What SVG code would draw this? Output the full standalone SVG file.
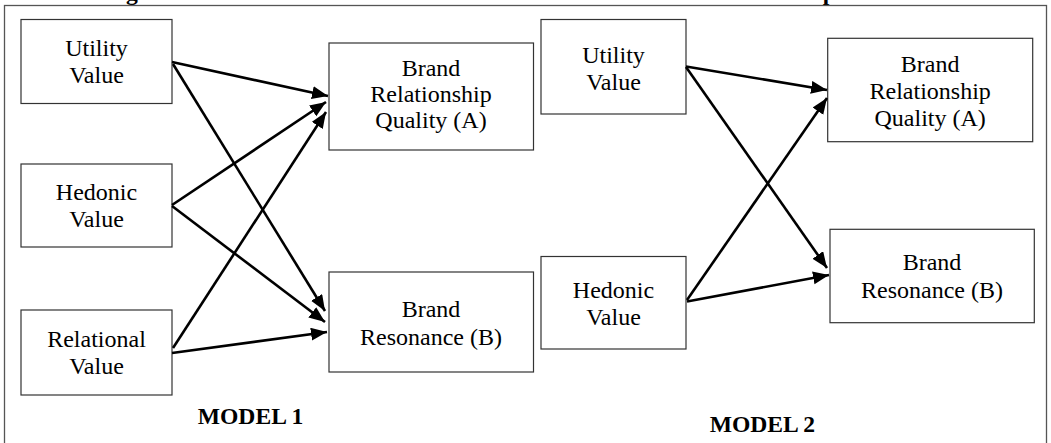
<svg xmlns="http://www.w3.org/2000/svg" width="1051" height="443" viewBox="0 0 1051 443">
<defs>
<style>
.frame{fill:none;stroke:#555;stroke-width:1.3}
.box{fill:#fff;stroke:#333;stroke-width:1.2}
.lbl{font-family:"Liberation Serif","Times New Roman",serif;font-size:24px;fill:#000;text-anchor:middle}
.bold{font-family:"Liberation Serif","Times New Roman",serif;font-size:23.6px;font-weight:bold;fill:#000}
.conn line{stroke:#000;stroke-width:2.6;marker-end:url(#arr)}
</style>
<marker id="arr" markerUnits="userSpaceOnUse" markerWidth="17" markerHeight="14" refX="16" refY="6.5" orient="auto">
<path d="M0,0 L16,6.5 L0,13 z" fill="#000"/>
</marker>
</defs>
<rect width="1051" height="443" fill="#fff"/>
<text class="bold" x="105" y="0">Figure 1: Relational Value Model towards Customer-Brand Relationship Outcomes</text>
<rect class="frame" x="4.5" y="5.5" width="1042" height="450"/>

<g id="m1-utility"><rect class="box" x="21" y="19.5" width="151" height="84"/><text class="lbl" x="96.5" y="56">Utility</text><text class="lbl" x="96.5" y="83">Value</text></g>
<g id="m1-hedonic"><rect class="box" x="21" y="164" width="151" height="83"/><text class="lbl" x="96.5" y="200">Hedonic</text><text class="lbl" x="96.5" y="227">Value</text></g>
<g id="m1-relational"><rect class="box" x="21" y="310" width="151" height="85"/><text class="lbl" x="96.5" y="347">Relational</text><text class="lbl" x="96.5" y="374">Value</text></g>
<g id="m1-brq"><rect class="box" x="329" y="43" width="204.5" height="107"/><text class="lbl" x="431" y="76">Brand</text><text class="lbl" x="431" y="102">Relationship</text><text class="lbl" x="431" y="128">Quality (A)</text></g>
<g id="m1-br"><rect class="box" x="329" y="272" width="204.5" height="100"/><text class="lbl" x="431" y="317">Brand</text><text class="lbl" x="431" y="345">Resonance (B)</text></g>

<g id="m2-utility"><rect class="box" x="541" y="19.5" width="145" height="94.5"/><text class="lbl" x="613.5" y="62.5">Utility</text><text class="lbl" x="613.5" y="89.5">Value</text></g>
<g id="m2-hedonic"><rect class="box" x="541" y="256.5" width="145" height="92.5"/><text class="lbl" x="613.5" y="298">Hedonic</text><text class="lbl" x="613.5" y="325">Value</text></g>
<g id="m2-brq"><rect class="box" x="827.7" y="38.3" width="205" height="103.4"/><text class="lbl" x="930.2" y="72">Brand</text><text class="lbl" x="930.2" y="98.5">Relationship</text><text class="lbl" x="930.2" y="125.5">Quality (A)</text></g>
<g id="m2-br"><rect class="box" x="830" y="229.3" width="204.3" height="93.4"/><text class="lbl" x="932" y="270">Brand</text><text class="lbl" x="932" y="298">Resonance (B)</text></g>

<g id="connectors" class="conn">
<line x1="172" y1="62" x2="328" y2="96"/>
<line x1="173" y1="64" x2="325" y2="311"/>
<line x1="172" y1="205" x2="326" y2="102"/>
<line x1="172" y1="206" x2="325" y2="322"/>
<line x1="173" y1="348" x2="326" y2="112"/>
<line x1="172" y1="353" x2="327" y2="332"/>
<line x1="686" y1="66.5" x2="827" y2="90"/>
<line x1="686" y1="67" x2="827" y2="268"/>
<line x1="687" y1="300" x2="827" y2="98"/>
<line x1="687" y1="301.5" x2="829" y2="275"/>
</g>

<text class="bold" x="250.5" y="424" text-anchor="middle">MODEL 1</text>
<text class="bold" x="762.4" y="432" text-anchor="middle">MODEL 2</text>
</svg>
